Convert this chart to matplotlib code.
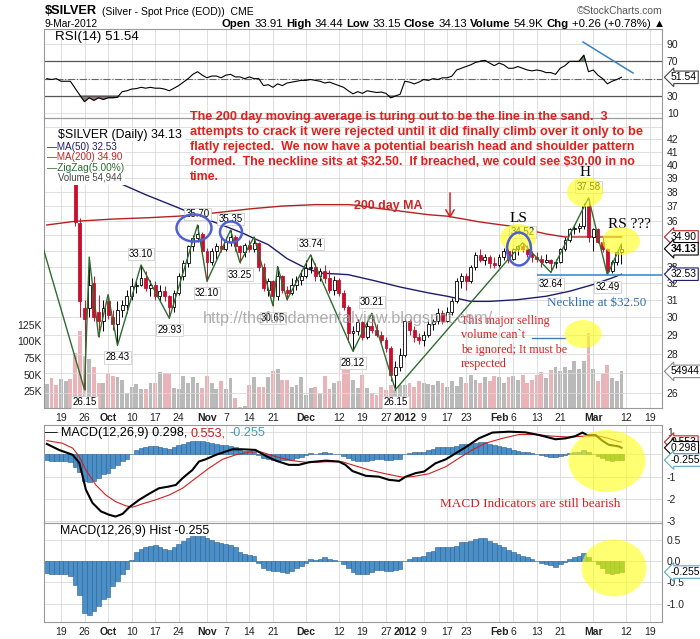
import matplotlib
matplotlib.use('Agg')
import matplotlib.pyplot as plt
import matplotlib.patches as mpatches
from matplotlib.ticker import NullLocator
import numpy as np

plt.rcParams['font.family'] = ['Liberation Sans', 'DejaVu Sans']

# ------------------------------------------------------------------ data
tick_idx = [3, 8, 13, 18, 23, 28, 34, 38, 43, 48, 55, 62, 67, 72, 76, 80, 85, 89, 96, 99, 104, 109, 116, 123, 128]
tick_lbl = ['19', '26', 'Oct', '10', '17', '24', 'Nov', '7', '14', '21', 'Dec', '12', '19', '27', '2012',
            '9', '17', '23', 'Feb', '6', '13', '21', 'Mar', '12', '19']

opens = [40.2, 40.6, 39.9, 39.7, 40.2, 40.4, 39.0, 35.8, 30.5, 30.5, 32.0, 30.3, 29.8, 30.9, 30.0, 29.6,
         30.4, 30.7, 31.2, 31.8, 31.9, 32.3, 31.7, 31.9, 31.2, 31.5, 31.2, 30.6, 31.4, 32.4, 33.2, 34.3,
         34.8, 35.1, 34.0, 33.3, 34.0, 34.3, 34.1, 34.6, 34.9, 34.3, 33.9, 34.4, 34.1, 34.5, 33.0, 31.6,
         32.1, 31.2, 32.4, 31.6, 31.4, 31.9, 32.2, 32.4, 32.9, 33.0, 32.4, 32.7, 32.3, 31.6, 32.2, 31.4,
         30.6, 29.1, 29.2, 29.7, 28.9, 29.5, 29.3, 29.0, 28.7, 28.3, 26.9, 27.3, 27.9, 29.8, 29.3, 28.9,
         28.7, 29.0, 29.6, 29.8, 30.2, 29.8, 30.3, 30.9, 32.1, 32.4, 32.1, 33.0, 33.7, 33.4, 33.6, 33.2,
         33.1, 33.6, 34.0, 33.5, 34.1, 34.3, 34.1, 33.8, 33.6, 33.5, 33.3, 33.4, 33.2, 33.3, 34.1, 34.7,
         35.4, 35.5, 35.6, 37.0, 34.9, 35.4, 34.6, 34.1, 32.7, 33.3, 33.91]
highs = [41.0, 40.9, 40.6, 40.6, 40.8, 41.2, 39.2, 36.2, 31.0, 33.6, 32.4, 31.3, 31.0, 31.3, 30.4, 30.9,
         31.0, 31.6, 32.3, 32.1, 33.10, 32.7, 32.2, 32.1, 31.9, 31.8, 31.3, 31.6, 32.6, 33.4, 34.4, 35.0,
         35.70, 35.2, 34.2, 34.2, 34.5, 34.8, 34.9, 35.35, 35.0, 34.4, 34.5, 34.7, 34.9, 34.6, 33.2, 32.3,
         32.2, 33.0, 32.5, 31.8, 32.3, 32.4, 32.8, 33.4, 33.74, 33.2, 32.9, 33.1, 32.8, 32.4, 32.3, 31.6,
         30.7, 29.5, 29.9, 29.8, 29.8, 30.21, 29.6, 29.2, 28.9, 28.4, 27.6, 28.3, 29.9, 29.9, 29.5, 29.1,
         29.2, 29.8, 29.9, 30.5, 30.4, 30.6, 31.1, 32.3, 32.6, 32.6, 33.1, 33.9, 34.1, 33.8, 33.7, 33.6,
         33.8, 34.2, 34.2, 34.2, 34.4, 34.52, 34.4, 34.0, 33.9, 33.7, 33.8, 33.5, 33.5, 34.2, 34.9, 35.5,
         35.6, 35.8, 37.2, 37.58, 35.5, 35.5, 34.9, 34.2, 33.4, 34.0, 34.44]
lows = [39.3, 39.5, 39.3, 39.0, 39.7, 39.6, 35.6, 30.0, 26.15, 30.0, 29.8, 28.9, 29.2, 29.9, 29.3, 28.43,
        30.0, 30.2, 31.0, 31.4, 31.8, 31.5, 31.2, 31.0, 30.9, 30.9, 29.93, 30.3, 31.3, 32.2, 33.0, 34.0,
        34.6, 33.9, 32.10, 33.1, 33.5, 33.9, 34.0, 34.3, 34.0, 33.25, 33.6, 33.9, 33.9, 32.7, 31.5, 31.2,
        30.65, 31.0, 31.4, 31.0, 31.3, 31.6, 31.9, 32.3, 32.6, 32.1, 32.1, 32.0, 31.4, 31.3, 31.2, 30.4,
        28.6, 28.12, 29.0, 28.7, 28.8, 29.1, 28.9, 28.5, 28.1, 26.6, 26.15, 27.1, 27.8, 29.0, 28.6, 28.5,
        28.4, 28.9, 29.3, 29.6, 29.6, 29.7, 30.1, 30.8, 31.7, 31.6, 32.0, 32.8, 33.3, 33.1, 32.9, 32.9,
        33.0, 33.4, 33.2, 33.4, 33.7, 33.9, 33.6, 33.3, 33.3, 33.0, 33.2, 32.64, 32.9, 33.2, 34.0, 34.6,
        35.1, 35.2, 35.4, 34.6, 34.0, 34.5, 33.9, 32.49, 32.6, 33.1, 33.15]
closes = [40.6, 39.9, 39.7, 40.2, 40.4, 39.9, 35.9, 30.9, 29.9, 31.9, 30.0, 29.8, 30.5, 30.1, 29.6, 30.4,
          30.7, 31.2, 31.8, 31.9, 32.3, 31.7, 31.9, 31.2, 31.5, 31.2, 30.6, 31.4, 32.4, 33.2, 34.3, 34.8,
          35.1, 34.0, 33.3, 34.0, 34.3, 34.1, 34.6, 34.9, 34.3, 33.9, 34.4, 34.1, 34.5, 33.0, 31.7, 32.1,
          31.2, 32.4, 31.6, 31.4, 31.9, 32.2, 32.4, 32.9, 33.0, 32.4, 32.7, 32.3, 31.6, 32.2, 31.4, 30.6,
          29.1, 29.2, 29.7, 28.9, 29.5, 29.3, 29.0, 28.7, 28.3, 26.9, 27.3, 27.9, 29.8, 29.3, 28.9, 28.7,
          29.0, 29.6, 29.8, 30.2, 29.8, 30.3, 30.9, 32.1, 32.4, 32.1, 33.0, 33.7, 33.4, 33.6, 33.2, 33.1,
          33.6, 34.0, 33.5, 34.1, 34.3, 34.1, 33.8, 33.6, 33.5, 33.3, 33.4, 33.2, 33.3, 34.1, 34.7, 35.4,
          35.5, 35.6, 37.0, 34.9, 35.4, 34.6, 34.1, 32.7, 33.3, 33.9, 34.13]
volume_k = [36, 45, 35, 44, 41, 43, 82, 115, 78, 73, 62, 38, 38, 53, 48, 47, 42, 22, 31, 36, 28, 28, 37, 38,
            54, 52, 53, 30, 28, 48, 38, 47, 37, 30, 48, 38, 28, 40, 28, 45, 15, 2, 3, 35, 46, 31, 31, 46,
            56, 58, 42, 42, 32, 35, 47, 20, 30, 31, 21, 48, 28, 37, 40, 62, 77, 42, 30, 50, 30, 22, 20, 31,
            27, 35, 27, 35, 35, 37, 31, 40, 38, 36, 35, 40, 38, 31, 41, 33, 46, 37, 50, 42, 38, 47, 40, 48,
            47, 37, 47, 48, 42, 50, 37, 42, 50, 54, 45, 57, 62, 55, 62, 57, 70, 58, 70, 112, 58, 40, 53, 65,
            45, 40, 54.944]
rsi = [50, 49, 50, 47, 47, 47, 39, 31, 23.5, 28, 25, 28, 26, 28, 28, 28.5, 35, 36, 38, 38.5, 40, 39, 40,
       39, 39, 38, 36, 39, 42, 46, 50, 55, 58, 54, 51, 53, 53, 51, 54, 55, 52, 52, 50, 52, 50, 50, 42, 43,
       40, 44, 42, 45, 46, 47, 48, 48, 49, 48, 47, 45, 46, 44, 42, 40, 36, 32.5, 35, 33, 36, 35, 34, 34.5,
       33, 28, 30, 32, 47, 46, 44, 46, 49, 48, 50, 49, 51, 51, 53, 60, 62, 64, 66, 68.7, 70, 71, 68, 65,
       68, 66, 62, 62, 64, 62, 60, 59, 60, 59, 57, 57, 55, 62, 65, 70, 70, 70, 77, 58, 60, 54, 50, 44, 47,
       49, 51.54]
ma50_idx = [0, 8, 15, 21, 27, 33, 38, 42, 44, 47, 51, 55, 58, 64, 70, 75, 81, 85, 90, 94, 100, 106, 111, 116, 120, 122]
ma50_val = [40.5, 39.6, 38.7, 37.8, 37.0, 36.2, 35.6, 35.1, 34.8, 34.4, 33.5, 32.9, 32.6, 32.5, 32.1, 31.75,
            31.4, 31.2, 30.9, 30.9, 31.0, 31.2, 31.5, 31.9, 32.3, 32.53]
ma200_idx = [0, 6, 14, 22, 28, 35, 43, 50, 57, 64, 66, 70, 75, 81, 85, 92, 99, 106, 110, 116, 122]
ma200_val = [35.7, 35.95, 36.1, 36.2, 36.3, 36.5, 36.8, 37.0, 37.1, 37.1, 37.05, 36.85, 36.65, 36.4, 36.3,
             35.9, 35.6, 35.1, 34.9, 34.9, 34.9]
zz_idx = [-8, 8, 9, 11, 13, 15, 20, 26, 32, 34, 39, 41, 44, 48, 49, 51, 56, 65, 69, 74, 101, 107, 115, 119, 122]
zz_px = [42.6, 26.15, 33.6, 28.9, 31.3, 28.43, 33.10, 29.93, 35.70, 32.10, 35.35, 33.25, 34.9, 30.65, 33.0,
         31.0, 33.74, 28.12, 30.21, 26.15, 34.52, 32.64, 37.58, 32.49, 34.44]
zz_shown = [0, 1, 0, 0, 0, 1, 1, 1, 1, 1, 1, 1, 0, 1, 0, 0, 1, 1, 1, 1, 1, 1, 1, 1, 0]
macd_idx = [0, 2.6, 5.5, 6.9, 8.3, 9.7, 11.5, 13.2, 14.6, 16.1, 17.5, 19.6, 21.7, 23.8, 26.0, 27.4, 28.8,
            30.9, 32.3, 33.7, 35.9, 38.0, 39.4, 41.5, 44.3, 46.5, 48.6, 51.4, 53.5, 55.7, 59.2, 62.0, 63.4,
            64.9, 67.7, 70.5, 72.6, 74.8, 76.2, 78.3, 80.1, 82.5, 84.7, 86.8, 88.9, 91.7, 94.6, 98.1, 101.6,
            104.5, 108.0, 110.1, 112.2, 113.7, 114.7, 116.5, 117.9, 119.3, 121.4, 122]
macd_val = [0.47, 0.20, -0.02, -0.38, -1.59, -2.18, -2.56, -2.71, -2.79, -2.67, -2.37, -2.04, -1.77, -1.52,
            -1.44, -1.37, -1.07, -0.70, -0.32, -0.22, -0.02, 0.13, 0.23, 0.23, 0.20, -0.07, -0.28, -0.47,
            -0.47, -0.35, -0.28, -0.32, -0.47, -0.75, -0.96, -1.0, -1.14, -1.19, -1.0, -0.84, -0.77, -0.40,
            -0.22, 0.05, 0.32, 0.72, 0.98, 1.02, 0.99, 0.87, 0.68, 0.72, 0.82, 0.98, 0.87, 0.87, 0.62, 0.43,
            0.36, 0.298]
sig_idx = [0, 3.3, 5.5, 6.9, 8.3, 10.4, 12.5, 14.6, 16.8, 18.2, 20.3, 23.1, 26.0, 28.8, 31.6, 34.4, 37.3,
           40.1, 42.9, 45.1, 48.6, 52.1, 55.7, 59.2, 62.7, 65, 68.4, 71.9, 75.4, 77.6, 81.1, 84.7, 87.5,
           90.3, 93.1, 96.7, 100.2, 103.8, 107.3, 110.8, 114.4, 117.2, 119.3, 121.4, 122]
sig_val = [0.62, 0.50, 0.28, -0.10, -0.70, -1.37, -1.82, -2.12, -2.31, -2.37, -2.22, -2.04, -1.82, -1.52,
           -1.07, -0.62, -0.22, -0.02, 0.10, 0.13, -0.10, -0.28, -0.37, -0.33, -0.33, -0.48, -0.70, -0.87,
           -1.02, -1.0, -0.87, -0.55, -0.17, 0.20, 0.50, 0.72, 0.89, 0.89, 0.82, 0.78, 0.82, 0.82, 0.72,
           0.57, 0.553]
hist = [-0.27, -0.29, -0.31, -0.31, -0.31, -0.35, -0.55, -0.79, -1.21, -1.26, -1.18, -1.06, -0.90, -0.83,
        -0.59, -0.47, -0.31, -0.19, 0.02, 0.21, 0.29, 0.33, 0.37, 0.38, 0.33, 0.29, 0.26, 0.33, 0.40, 0.48,
        0.54, 0.59, 0.60, 0.59, 0.54, 0.51, 0.46, 0.44, 0.40, 0.38, 0.33, 0.22, 0.17, 0.14, 0.13, -0.03,
        -0.15, -0.21, -0.23, -0.23, -0.25, -0.27, -0.23, -0.17, -0.11, -0.03, 0.05, 0.03, 0.06, 0.09, 0.05,
        0.02, 0.01, -0.07, -0.15, -0.25, -0.29, -0.31, -0.29, -0.25, -0.21, -0.21, -0.23, -0.23, -0.21,
        -0.19, 0.01, 0.06, 0.09, 0.11, 0.13, 0.21, 0.25, 0.33, 0.33, 0.33, 0.34, 0.37, 0.46, 0.46, 0.48,
        0.52, 0.54, 0.54, 0.48, 0.43, 0.38, 0.33, 0.27, 0.22, 0.17, 0.13, 0.09, 0.05, 0.01, -0.03, -0.07,
        -0.10, -0.13, -0.07, -0.02, 0.05, 0.09, 0.13, 0.19, 0.09, 0.01, -0.07, -0.17, -0.27, -0.29, -0.27,
        -0.255]
neckline = 32.50
neck_start = 104
green_from = 115

# ------------------------------------------------------------------ styles
W, H = 700, 639
RED = '#c8102e'
GRID = '#d9d9d9'
ANN_RED = '#e0201c'
BLUE_H = '#4a8fc7'
GREEN_H = '#3f8f4f'
XL = (-0.6, 130.6)

fig = plt.figure(figsize=(7, 6.39), dpi=100)
R = fig.canvas.get_renderer()


def rect(left, top, right, bottom):
    return [left / W, 1 - bottom / H, (right - left) / W, (bottom - top) / H]


def style_panel(a, labels):
    a.set_xlim(*XL)
    a.set_xticks(tick_idx)
    if labels:
        a.set_xticklabels(tick_lbl, fontsize=7.5)
        for t in a.get_xticklabels():
            if not t.get_text().isdigit() or t.get_text() == '2012':
                t.set_fontweight('bold')
    else:
        a.set_xticklabels([])
    a.tick_params(length=0, labelsize=7.5, colors='#222')
    a.yaxis.tick_right()
    a.grid(True, color=GRID, lw=0.6)
    a.set_axisbelow(True)
    for s in a.spines.values():
        s.set_color('#999')
        s.set_linewidth(0.8)


def tag(a, y, s, ec, bold=False, trans=None):
    a.text(1.0 + 9 / 618, y, s, transform=trans or a.get_yaxis_transform(), ha='left', va='center',
           fontsize=7.5, fontweight='bold' if bold else 'normal', clip_on=False, zorder=20,
           bbox=dict(boxstyle='larrow,pad=0.12', fc='white', ec=ec, lw=0.8))


def fit_text(x, y, s, width, **kw):
    t = fig.text(x / W, 1 - y / H, s, fontsize=10, va='center', ha='left', **kw)
    w = t.get_window_extent(renderer=R).width
    t.set_fontsize(10 * width / w)
    return t


def text_run(x, y, parts, width):
    texts = [fig.text(0, 0, s, fontsize=10, va='center', ha='left', **kw) for s, kw in parts]
    gap = 0.278 * 10 * 100 / 72
    total = sum(t.get_window_extent(renderer=R).width for t in texts) + gap * (len(texts) - 1)
    k = width / total
    cx = x
    for t in texts:
        t.set_fontsize(10 * k)
        t.set_position((cx / W, 1 - y / H))
        cx += t.get_window_extent(renderer=R).width + gap * k


def ellipse(cx, cy, w, h, **kw):
    e = mpatches.Ellipse((cx / W, 1 - cy / H), w / W, h / H, transform=fig.transFigure, zorder=30, **kw)
    fig.add_artist(e)


x = np.arange(len(closes))
o, h, l, c = map(np.array, (opens, highs, lows, closes))

# ------------------------------------------------------------------ RSI panel
ax_rsi = fig.add_axes(rect(44, 29, 662, 118))
style_panel(ax_rsi, False)
rs = np.array(rsi)
ax_rsi.set_ylim(4.6, 107.3)
ax_rsi.set_yticks([10, 30, 50, 70, 90], ['10', '30', '', '70', '90'])
ax_rsi.axhline(70, color='#555', lw=0.9)
ax_rsi.axhline(30, color='#555', lw=0.9)
ax_rsi.axhline(50, color='#666', lw=0.8, ls='-.')
ax_rsi.fill_between(x, rs, 30, where=rs < 30, interpolate=True, color='#9c7a7a')
ax_rsi.fill_between(x, rs, 70, where=rs > 70, interpolate=True, color='#6b8a6b')
ax_rsi.plot(x, rs, color='black', lw=0.8)
tag(ax_rsi, rsi[-1], f'{rsi[-1]:.2f}', '#444')

# ------------------------------------------------------------------ price panel
ax = fig.add_axes(rect(44, 118, 662, 408))
ax_vol = ax.twinx()
ax.set_zorder(ax_vol.get_zorder() + 1)
ax.patch.set_visible(False)
ax.set_yscale('log')
style_panel(ax, True)
ax.set_ylim(25.26, 43.7)
levels = list(range(26, 44))
hidden = {27, 34, 35, 43}
ax.set_yticks(levels, ['' if v in hidden else str(v) for v in levels])
ax.yaxis.set_minor_locator(NullLocator())

vol_up = np.r_[True, c[1:] >= c[:-1]]
ax_vol.bar(x, volume_k, width=0.82, color=np.where(vol_up, '#b9b9b9', '#e9b3b8'), lw=0)
ax_vol.set_ylim(0, 435)
ax_vol.yaxis.tick_left()
ax_vol.set_yticks([25, 50, 75, 100, 125], ['25K', '50K', '75K', '100K', '125K'])
ax_vol.tick_params(length=0, labelsize=7.5, pad=1.5, colors='#222')
for s in ax_vol.spines.values():
    s.set_visible(False)

ax.plot(ma200_idx, ma200_val, color='#b22222', lw=1.0, zorder=2)
ax.plot(ma50_idx, ma50_val, color='#1c1c6c', lw=1.0, zorder=2)

up = c >= o
ax.vlines(x[up], l[up], h[up], color='black', lw=0.7, zorder=3)
ax.vlines(x[~up], l[~up], h[~up], color=RED, lw=0.7, zorder=3)
body_lo = np.minimum(o, c)
body_h = np.maximum(np.abs(c - o), 0.04)
ax.bar(x[up], body_h[up], bottom=body_lo[up], width=0.62, color='white', edgecolor='black', lw=0.6, zorder=4)
ax.bar(x[~up], body_h[~up], bottom=body_lo[~up], width=0.62, color=RED, edgecolor=RED, lw=0.6, zorder=4)

ax.plot(zz_idx, zz_px, color='#2e6b2e', lw=1.0, zorder=5)
for i, (zi, zp, show) in enumerate(zip(zz_idx, zz_px, zz_shown)):
    if not show:
        continue
    peak = zp > zz_px[i - 1]
    ax.annotate(f'{zp:.2f}', (zi, zp), xytext=(0, 11 if peak else -12), textcoords='offset pixels',
                ha='center', va='center', fontsize=7, zorder=8,
                bbox=dict(boxstyle='square,pad=0.12', fc='white', ec='#cfcfcf', lw=0.6))

ax.hlines(neckline, neck_start, XL[1], color='#3d8fd0', lw=1.2, zorder=6, clip_on=False)

tag(ax, ma200_val[-1], f'{ma200_val[-1]:.2f}', '#c02020')
tag(ax, closes[-1], f'{closes[-1]:.2f}', 'black', bold=True)
tag(ax, ma50_val[-1], f'{ma50_val[-1]:.2f}', '#1c1c6c')
tag(ax_vol, volume_k[-1], f'{volume_k[-1] * 1000:.0f}', '#888')

# legend block (white background hides the first days, as in the original)
fig.add_artist(mpatches.Rectangle((45 / W, 1 - 185 / H), 80 / W, 57 / H, transform=fig.transFigure,
                                  fc='white', ec='none', zorder=3))
fig.add_artist(mpatches.Rectangle((45 / W, 1 - 141 / H), 140 / W, 13 / H, transform=fig.transFigure,
                                  fc='white', ec='none', zorder=3))
for yy, s, col, x0, x1 in [(135, '$SILVER (Daily) 34.13', 'black', 58, 182),
                           (147, '\u2014MA(50) 32.53', '#1c1c6c', 47, 117),
                           (157, '\u2014MA(200) 34.90', '#c02020', 47, 122),
                           (168, '\u2014ZigZag(5.00%)', '#2e6b2e', 47, 124),
                           (178, 'Volume 54,944', '#444', 58, 122)]:
    fit_text(x0, yy, s, x1 - x0, color=col, zorder=4)

# ------------------------------------------------------------------ MACD panel
ax_macd = fig.add_axes(rect(44, 425, 662, 523))
style_panel(ax_macd, False)
ax_macd.set_ylim(-3.08, 1.32)
ax_macd.set_yticks([1, 0, -1, -2, -3], ['1', '', '-1', '-2', '-3'])
hcol = np.where(x >= green_from, GREEN_H, BLUE_H)
hedge = np.where(x >= green_from, '#2a5a30', '#2a5f8f')
ax_macd.bar(x, hist, width=1.0, color=hcol, edgecolor=hedge, lw=0.4, zorder=2)
ax_macd.plot(sig_idx, sig_val, color='#d02020', lw=0.8, zorder=3)
ax_macd.plot(macd_idx, macd_val, color='black', lw=1.5, zorder=4)
tag(ax_macd, sig_val[-1], f'{sig_val[-1]:.3f}', '#d02020')
tag(ax_macd, macd_val[-1], f'{macd_val[-1]:.3f}', 'black')
tag(ax_macd, hist[-1], f'{hist[-1]:.3f}', '#5aaabb')

# ------------------------------------------------------------------ histogram panel
ax_hist = fig.add_axes(rect(44, 523, 662, 622))
style_panel(ax_hist, True)
ax_hist.set_ylim(-1.43, 0.9)
ax_hist.set_yticks([0.5, 0, -0.5, -1.0], ['0.5', '0.0', '-0.5', '-1.0'])
ax_hist.bar(x, hist, width=1.0, color=hcol, edgecolor=hedge, lw=0.4, zorder=2)
tag(ax_hist, hist[-1], f'{hist[-1]:.3f}', '#5aaabb')

# ------------------------------------------------------------------ header and labels
fit_text(45, 11, '$SILVER', 52, fontweight='bold')
fit_text(102, 12, '(Silver - Spot Price (EOD))  CME', 152)
fit_text(577, 11, '\u00a9StockCharts.com', 86, color='#555')
fit_text(45, 24, '9-Mar-2012', 53)
B = {'fontweight': 'bold'}
text_run(222, 24, [('Open', B), ('33.91', {}), ('High', B), ('34.44', {}), ('Low', B), ('33.15', {}),
                   ('Close', B), ('34.13', {}), ('Volume', B), ('54.9K', {}), ('Chg', B),
                   ('+0.26 (+0.78%) \u25b2', {})], 440)
fit_text(55, 37, 'RSI(14) 51.54', 83)
text_run(45, 433, [('\u2014', {}), ('MACD(12,26,9) 0.298,', {}), ('0.553,', {'color': '#c02020'}),
                   ('-0.255', {'color': '#4a9aaa'})], 220)
fit_text(60, 531, 'MACD(12,26,9) Hist -0.255', 149)

# ------------------------------------------------------------------ annotations
note = ['The 200 day moving average is turing out to be the line in the sand.  3',
        'attempts to crack it were rejected until it did finally climb over it only to be',
        'flatly rejected.  We now have a potential bearish head and shoulder pattern',
        r'formed.  The neckline sits at \$32.50.  If breached, we could see \$30.00 in no',
        'time.']
note_w = [417, 455, 447, 445, None]
size = None
for k, (s, wd) in enumerate(zip(note, note_w)):
    if wd:
        t = fit_text(190, 117 + 15 * k, s, wd, color=ANN_RED, fontweight='bold', zorder=25)
        size = t.get_fontsize()
    else:
        fig.text(190 / W, 1 - (117 + 15 * k) / H, s, fontsize=size, color=ANN_RED, fontweight='bold',
                 va='center', ha='left', zorder=25)

fit_text(354, 206, '200 day MA', 68, color='#c82828', fontweight='bold', zorder=25)
fig.add_artist(mpatches.FancyArrowPatch((450 / W, 1 - 190 / H), (450 / W, 1 - 221 / H),
                                        transform=fig.transFigure, arrowstyle='->,head_width=3,head_length=5',
                                        color='#d02020', lw=1.1, zorder=25))
fig.add_artist(matplotlib.lines.Line2D([583 / W, 633 / W], [1 - 42 / H, 1 - 73 / H],
                                       transform=fig.transFigure, color='#3a80c0', lw=1.1, zorder=25))

SERIF = ['Liberation Serif', 'DejaVu Serif']
fig.text(518 / W, 1 - 218 / H, 'LS', family=SERIF, fontsize=11, ha='center', va='center', zorder=25)
fig.text(585 / W, 1 - 172 / H, 'H', family=SERIF, fontsize=11, ha='center', va='center', zorder=25)
fig.text(629 / W, 1 - 225 / H, 'RS ???', family=SERIF, fontsize=11, ha='center', va='center', zorder=25)
fit_text(547, 303, 'Neckline at $32.50', 100, family=SERIF, color='#3070b0', zorder=25)
vol_note = ['This major selling', 'volume can`t', 'be ignored; It must be', 'respected']
t3 = fit_text(461, 350, vol_note[2], 106, family=SERIF, color='#d42020', zorder=25)
for k, s in enumerate(vol_note):
    if k != 2:
        fig.text(461 / W, 1 - (321 + 14.3 * k) / H, s, family=SERIF, fontsize=t3.get_fontsize(),
                 color='#d42020', va='center', ha='left', zorder=25)
fig.add_artist(matplotlib.lines.Line2D([532 / W, 565 / W], [1 - 338 / H, 1 - 338 / H],
                                       transform=fig.transFigure, color='#3a80c0', lw=1.0, zorder=25))
fit_text(440, 504, 'MACD Indicators are still bearish', 181, family=SERIF, color='#d42020', zorder=25)
fit_text(203, 318, 'http://thefundamentalview.blogspot.com/', 290, color='#9a9a9a', alpha=0.8, zorder=25)

YEL = dict(fc='#ffff1a', ec='none', alpha=0.62)
for cx, cy, ew, eh in [(518, 238, 36, 28), (585, 192, 36, 30), (621, 241, 38, 28), (583, 334, 37, 28),
                       (607, 461, 77, 62), (614, 568, 65, 57)]:
    ellipse(cx, cy, ew, eh, **YEL)
for cx, cy, ew, eh in [(194, 228, 35, 27), (231, 232, 22, 21), (519, 249, 24, 33)]:
    ellipse(cx, cy, ew, eh, fc='none', ec='#5060d0', lw=1.8)

fig.savefig('out.png', dpi=100, facecolor='white')
